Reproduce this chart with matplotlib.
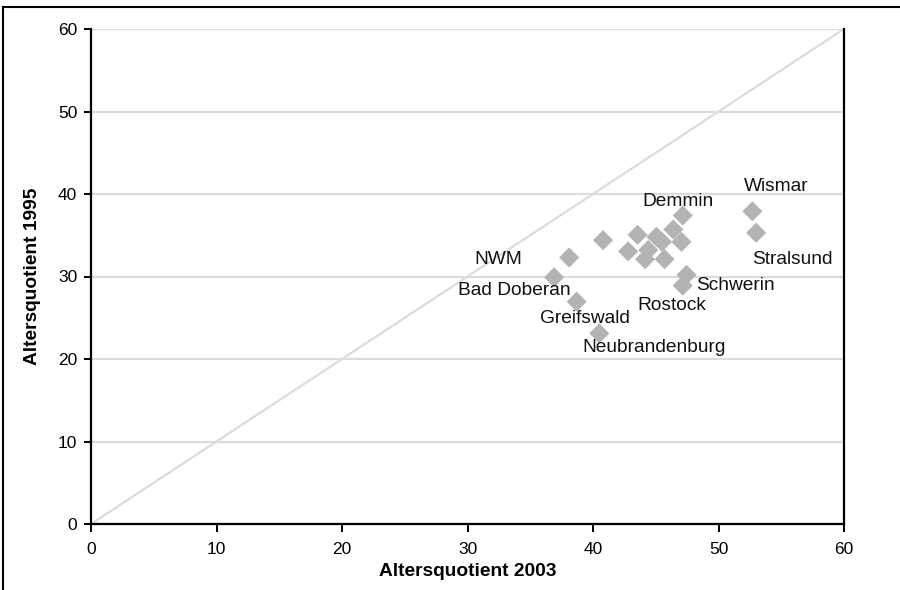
import matplotlib
matplotlib.use("Agg")
import matplotlib.pyplot as plt
from matplotlib.lines import Line2D

# Data (Altersquotient 2003 vs 1995)
x2003 = [52.7, 53.0, 47.15, 40.8, 43.55, 46.4, 45.05, 45.5, 47.05, 42.8, 44.4, 44.15, 45.7,
         38.1, 36.9, 47.45, 47.15, 38.7, 40.5]
y1995 = [37.9, 35.3, 37.4, 34.4, 35.05, 35.7, 34.8, 34.2, 34.2, 33.05, 33.2, 32.1, 32.1,
         32.3, 29.9, 30.2, 28.9, 26.95, 23.1]
names = ["Wismar", "Stralsund", "Demmin", "", "", "", "", "", "", "", "", "", "",
         "NWM", "Bad Doberan", "Schwerin", "Rostock", "Greifswald", "Neubrandenburg"]
ticks = [0, 10, 20, 30, 40, 50, 60]

# label placement: offset (pixels, y up) of text anchor from the marker, horizontal alignment
label_pos = {
    "Wismar": (-8, 20, "left"),
    "Stralsund": (-4, -31, "left"),
    "Demmin": (-40, 9, "left"),
    "NWM": (-47, -6, "right"),
    "Bad Doberan": (17, -18, "right"),
    "Greifswald": (-37, -21, "left"),
    "Neubrandenburg": (-17, -19, "left"),
    "Rostock": (-45, -24, "left"),
    "Schwerin": (10, -15, "left"),
}

fig = plt.figure(figsize=(9, 5.9), dpi=100)
ax = fig.add_axes([91/900, 1-524/590, (844-91)/900, (524-29)/590])

ax.set_xlim(0, 60)
ax.set_ylim(0, 60)
ax.set_xticks(ticks)
ax.set_yticks(ticks)
ax.yaxis.grid(True, color="#dcdcdc", lw=1.6)
ax.set_axisbelow(True)
ax.plot([0, 60], [0, 60], color="#dcdcdc", lw=1.6, zorder=1)
ax.axhline(60, color="#dcdcdc", lw=1.6, zorder=1)

ax.scatter(x2003, y1995, marker="D", s=105, color="#b3b3b3", edgecolors="none", zorder=3)

lab_font = ["Liberation Sans", "DejaVu Sans"]
for xv, yv, n in zip(x2003, y1995, names):
    if not n:
        continue
    dx, dy, ha = label_pos[n]
    ax.annotate(n, (xv, yv), xytext=(dx, dy), textcoords="offset pixels",
                ha=ha, va="baseline", fontsize=13.8, family=lab_font, color="#111111")

for side in ["left", "bottom", "right"]:
    ax.spines[side].set_color("black")
    ax.spines[side].set_linewidth(1.6)
ax.spines["top"].set_visible(False)

tick_font = ["Liberation Sans", "DejaVu Sans"]
ax.tick_params(axis="x", direction="out", length=6, width=1.4, color="black", labelsize=12.5, pad=7)
ax.tick_params(axis="y", direction="out", length=5.4, width=1.4, color="black", labelsize=12.5, pad=4.5)
for lab in ax.get_xticklabels() + ax.get_yticklabels():
    lab.set_family(tick_font)

ax.set_xlabel("Altersquotient 2003", fontsize=13.8, fontweight="bold", family=tick_font, labelpad=4)
ax.set_ylabel("Altersquotient 1995", fontsize=13.8, fontweight="bold", family=tick_font, labelpad=12)

# outer frame (top and left)
fig.add_artist(Line2D([3/900, 3/900], [0, 1-7/590], transform=fig.transFigure, color="black", lw=1.5))
fig.add_artist(Line2D([3/900, 1], [1-7/590, 1-7/590], transform=fig.transFigure, color="black", lw=1.5))

fig.savefig("out.png", dpi=100)
